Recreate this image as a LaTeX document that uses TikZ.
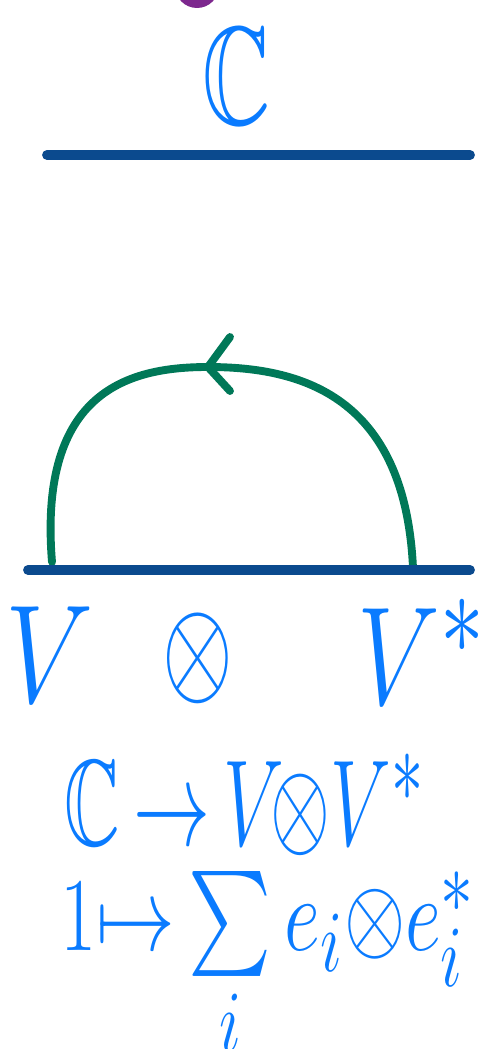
\documentclass[tikz,border=0pt]{standalone}
\usepackage{amsmath,amssymb}
\usepackage{tikz}
\usepackage{xcolor}
\definecolor{inkblue}{RGB}{10,123,255}
\definecolor{barblue}{RGB}{11,74,142}
\definecolor{loopgreen}{RGB}{0,120,88}
\definecolor{blobpurple}{RGB}{125,40,142}

\begin{document}
\begin{tikzpicture}[x=0.025cm,y=-0.025cm,line cap=round,
  ink/.style={text=inkblue,font=\Huge,inner sep=0pt},
  bar/.style={barblue,line width=7pt},
  loop/.style={loopgreen,line width=5.6pt,line join=round}]
\useasboundingbox (0,0) rectangle (484,1049);
\clip (0,0) rectangle (484,1049);
% top part
\fill[blobpurple] (197,-14) circle (22);
\node[ink,xscale=2.7,yscale=4.0] (cc) at (237,76) {$\mathbb{C}$};
\coordinate (t1) at (47,155);
\coordinate (t2) at (470,155);
\draw[bar] (t1) -- (t2);
% cup with arrow
\coordinate (b1) at (28,570);
\coordinate (b2) at (470,570);
\coordinate (arcL) at (52,562);
\coordinate (arcTop) at (208,367);
\coordinate (arcR) at (413,568);
\draw[loop] (arcL) .. controls (38,390) and (130,367) .. (arcTop)
  .. controls (300,367) and (405,395) .. (arcR);
\draw[loop] (230,337) -- (arcTop) -- (230,391);
\draw[bar] (b1) -- (b2);
% labels
\node[ink,xscale=3.2,yscale=4.0] (v) at (50,655) {$V$};
\node[ink,xscale=2.6,yscale=3.9] (ot) at (198,658) {$\otimes$};
\node[ink,xscale=3.0,yscale=4.0] (vs) at (422,652) {$V^*$};
\node[ink,xscale=2.2,yscale=3.5] (map) at (245,805)
  {${\mathbb{C}}\,{\to}\,V\!{\otimes}V^{*}$};
\node[ink,xscale=2.25,yscale=3.0] (img) at (268,967)
  {$1{\mapsto}\sum\limits_i e_i{\otimes}e_i^{*}$};
\end{tikzpicture}
\end{document}
